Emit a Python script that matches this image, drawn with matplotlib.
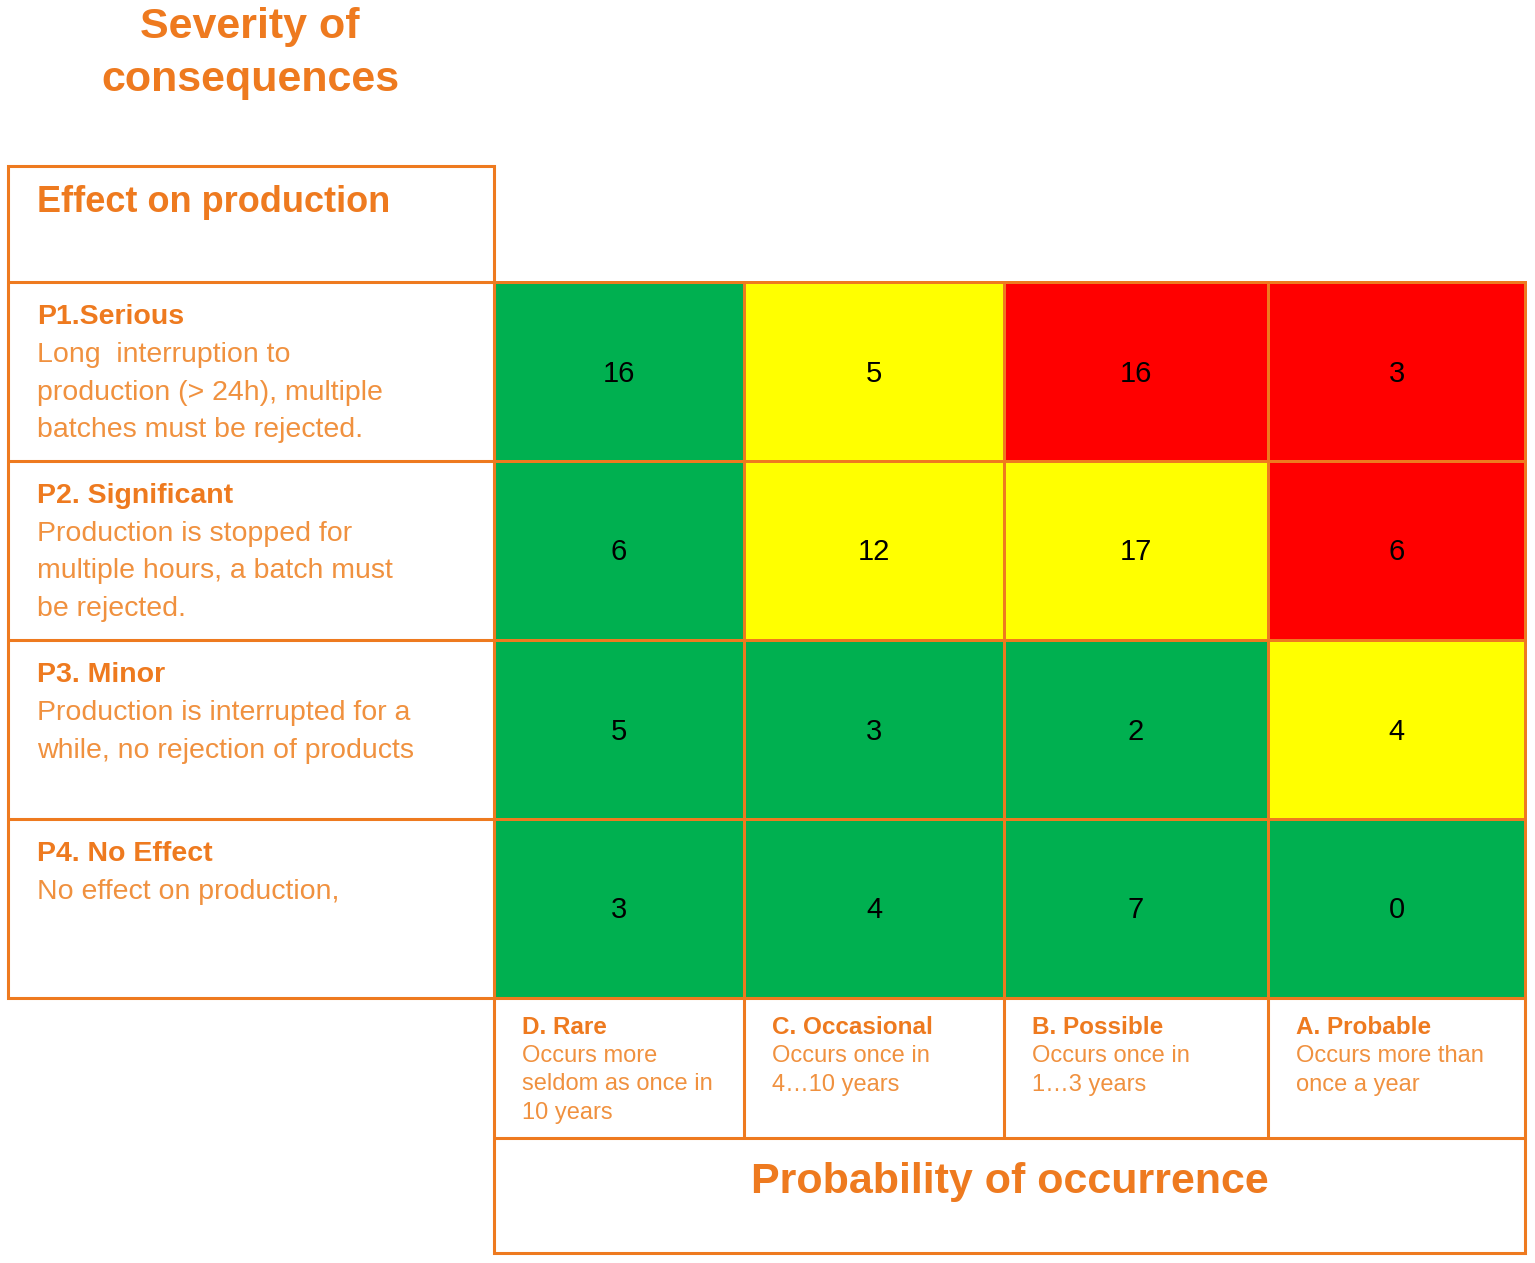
import numpy as np
import matplotlib
matplotlib.use('Agg')
import matplotlib.pyplot as plt
from matplotlib.colors import ListedColormap
from matplotlib.patches import Rectangle

# data
severity_titles = ['P1.Serious', 'P2. Significant', 'P3. Minor', 'P4. No Effect']
severity_text = [
    ['Long  interruption to', 'production (> 24h), multiple', 'batches must be rejected.'],
    ['Production is stopped for', 'multiple hours, a batch must', 'be rejected.'],
    ['Production is interrupted for a', 'while, no rejection of products'],
    ['No effect on production,'],
]
probability_titles = ['D. Rare', 'C. Occasional', 'B. Possible', 'A. Probable']
probability_text = [
    ['Occurs more', 'seldom as once in', '10 years'],
    ['Occurs once in', '4…10 years'],
    ['Occurs once in', '1…3 years'],
    ['Occurs more than', 'once a year'],
]
counts = [
    [16, 5, 16, 3],
    [6, 12, 17, 6],
    [5, 3, 2, 4],
    [3, 4, 7, 0],
]
# 0 = green, 1 = yellow, 2 = red
risk_level = [
    [0, 1, 2, 2],
    [0, 1, 1, 2],
    [0, 0, 0, 1],
    [0, 0, 0, 0],
]

ORANGE = '#EE7A1F'
ORANGE_LIGHT = '#F0913F'
risk_cmap = ListedColormap(['#00B050', '#FFFF00', '#FF0000'])

plt.rcParams['font.family'] = ['Liberation Sans', 'DejaVu Sans']

fig = plt.figure(figsize=(15.35, 12.63), dpi=100)
ax = fig.add_axes([0, 0, 1, 1])
ax.set_xlim(0, 1535)
ax.set_ylim(1263, 0)
ax.axis('off')

# layout (pixel units)
x_edges = np.array([494, 744, 1004, 1268, 1525])
y_edges = np.array([282, 461, 640, 819, 998])
left_x = 8
header_top = 166
bottom_row = 1138
bottom_end = 1253
lw = 2.2

# matrix cells
ax.pcolormesh(x_edges, y_edges, np.array(risk_level), cmap=risk_cmap,
              vmin=-0.5, vmax=2.5, edgecolors=ORANGE, linewidth=1.8)
for i, row in enumerate(counts):
    for j, v in enumerate(row):
        cx = (x_edges[j] + x_edges[j + 1]) / 2
        cy = (y_edges[i] + y_edges[i + 1]) / 2
        ax.text(cx, cy + 2, str(v), ha='center', va='center', fontsize=21, color='black')

# left table
ax.add_patch(Rectangle((left_x, header_top), x_edges[0] - left_x, y_edges[-1] - header_top,
                       fill=False, edgecolor=ORANGE, linewidth=lw))
ax.hlines(y_edges[:-1], left_x, x_edges[0], colors=ORANGE, linewidth=lw)
ax.text(37, header_top + 37, 'Effect on production', ha='left', va='center',
        fontsize=26, fontweight='bold', color=ORANGE)
for i, title in enumerate(severity_titles):
    top = y_edges[i]
    ax.text(37, top + 35, title, ha='left', va='center', fontsize=20.5,
            fontweight='bold', color=ORANGE)
    for k, line in enumerate(severity_text[i]):
        ax.text(37, top + 73 + 37.5 * k, line, ha='left', va='center',
                fontsize=20.5, color=ORANGE_LIGHT)

# bottom table
ax.add_patch(Rectangle((x_edges[0], y_edges[-1]), x_edges[-1] - x_edges[0], bottom_end - y_edges[-1],
                       fill=False, edgecolor=ORANGE, linewidth=lw))
ax.hlines(bottom_row, x_edges[0], x_edges[-1], colors=ORANGE, linewidth=lw)
ax.vlines(x_edges[1:-1], y_edges[-1], bottom_row, colors=ORANGE, linewidth=lw)
for j, title in enumerate(probability_titles):
    lx = x_edges[j] + 28
    ax.text(lx, 1027, title, ha='left', va='center', fontsize=17.5,
            fontweight='bold', color=ORANGE)
    for k, line in enumerate(probability_text[j]):
        ax.text(lx, 1056 + 28.5 * k, line, ha='left', va='center',
                fontsize=17, color=ORANGE_LIGHT)

ax.text((x_edges[0] + x_edges[-1]) / 2, 1182, 'Probability of occurrence', ha='center',
        va='center', fontsize=31, fontweight='bold', color=ORANGE)

# axis title top-left
ax.text(250, 27, 'Severity of', ha='center', va='center', fontsize=31,
        fontweight='bold', color=ORANGE)
ax.text(250, 80, 'consequences', ha='center', va='center', fontsize=31,
        fontweight='bold', color=ORANGE)

fig.savefig('out.png', dpi=100)
